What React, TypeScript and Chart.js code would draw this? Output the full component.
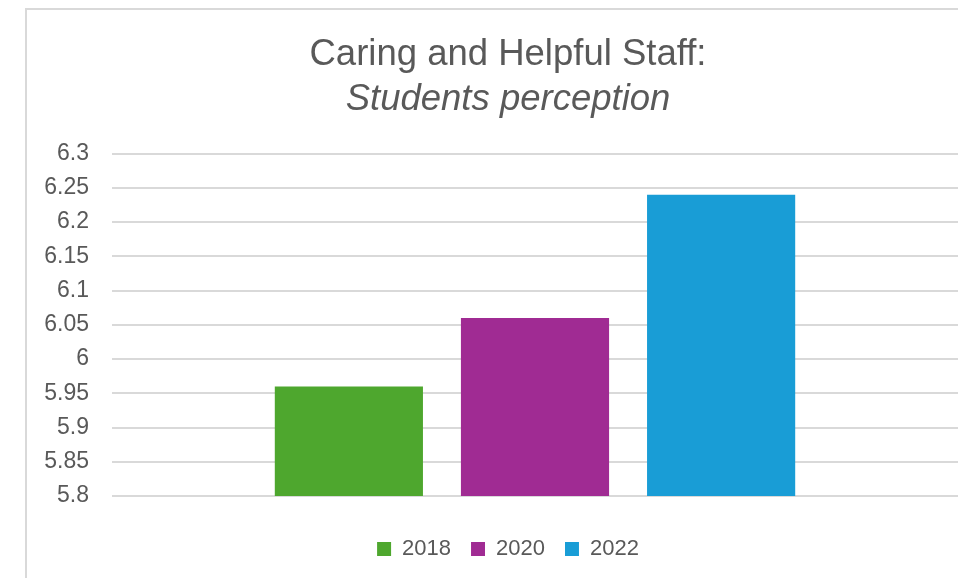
import React, { useEffect, useRef } from "react";
import { Chart, registerables } from "chart.js";

Chart.register(...registerables);

const categories = [""];
const seriesNames = ["2018", "2020", "2022"];
const values2018 = [5.96];
const values2020 = [6.06];
const values2022 = [6.24];
const seriesColors = ["#4ea72e", "#a02b93", "#199dd6"];
const titleLine1 = "Caring and Helpful Staff:";
const titleLine2 = "Students perception";

export default function App() {
  const ref = useRef<HTMLCanvasElement>(null);
  useEffect(() => {
    const font = "'Liberation Sans', Arial, sans-serif";
    const chart = new Chart(ref.current!, {
      type: "bar",
      data: {
        labels: categories,
        datasets: [values2018, values2020, values2022].map((v, i) => ({
          label: seriesNames[i],
          data: v,
          backgroundColor: seriesColors[i],
          categoryPercentage: 0.66,
          barPercentage: 0.796,
        })),
      },
      options: {
        animation: false,
        responsive: false,
        maintainAspectRatio: false,
        layout: { padding: { top: 23, right: 0, bottom: 8, left: 0 } },
        plugins: {
          title: {
            display: true,
            text: titleLine1,
            color: "#595959",
            font: { family: font, size: 36.5, weight: "normal" },
            padding: { top: 0, bottom: 1 },
          },
          subtitle: {
            display: true,
            text: titleLine2,
            color: "#595959",
            font: { family: font, size: 36.5, style: "italic", weight: "normal" },
            padding: { top: 0, bottom: 32 },
          },
          legend: {
            position: "bottom",
            labels: {
              color: "#595959",
              font: { family: font, size: 22 },
              boxWidth: 14,
              boxHeight: 14,
              padding: 20,
            },
          },
          tooltip: { enabled: false },
        },
        scales: {
          x: {
            afterFit(scale: any) {
              scale.height += 22;
            },
            grid: { display: false, drawTicks: false },
            border: { display: false },
            ticks: { display: false },
          },
          y: {
            min: 5.8,
            max: 6.3,
            afterFit(scale: any) {
              scale.width = 85;
            },
            grid: { color: "#d9d9d9", lineWidth: 2, drawTicks: false },
            border: { display: false },
            ticks: {
              stepSize: 0.05,
              padding: 23,
              color: "#595959",
              font: { family: font, size: 23 },
              callback: (v: any) => String(Math.round(Number(v) * 100) / 100),
            },
          },
          yRightSpacer: {
            position: "right",
            display: true,
            min: 0,
            max: 1,
            afterFit(scale: any) {
              scale.width = 31;
            },
            grid: { display: false, drawTicks: false },
            border: { display: false },
            ticks: { display: false },
          },
        },
      },
    });
    return () => chart.destroy();
  }, []);
  return (
    <div style={{ position: "fixed", left: 0, top: 0, width: 958, height: 578, background: "#fff", overflow: "hidden" }}>
      <div
        style={{
          position: "absolute",
          left: 25,
          top: 8,
          width: 962,
          height: 570,
          borderLeft: "2px solid #d9d9d9",
          borderTop: "2px solid #d9d9d9",
        }}
      >
        <canvas ref={ref} width={962} height={568} style={{ display: "block" }} />
      </div>
    </div>
  );
}
